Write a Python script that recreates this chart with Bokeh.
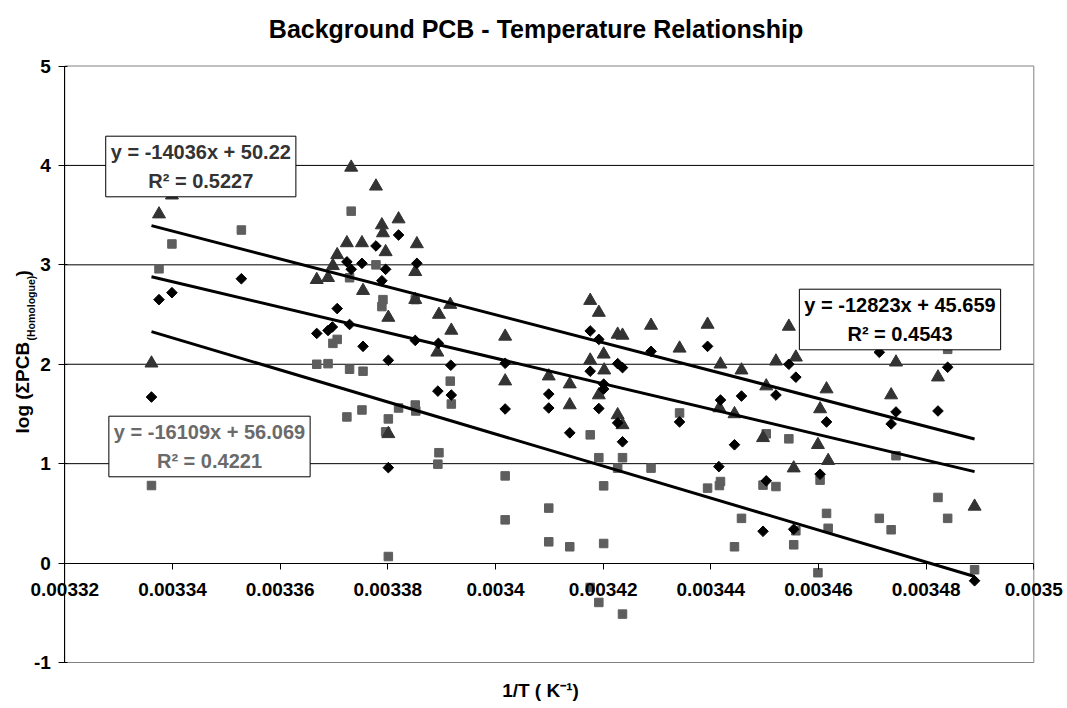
from math import pi
from bokeh.plotting import figure
from bokeh.models import FixedTicker, Label, Range1d
from bokeh.embed import file_html
from bokeh.resources import INLINE

# ---------------- data ----------------
tri_x = [0.0033361, 0.0033375, 0.0033399, 0.0033668, 0.0033689, 0.0033698, 0.0033706, 0.0033724,
         0.0033732, 0.0033752, 0.0033754, 0.0033778, 0.0033789, 0.0033791, 0.0033796, 0.0033801,
         0.0033801, 0.0033820, 0.0033854, 0.0033851, 0.0033851, 0.0033895, 0.0033892, 0.0033916,
         0.0033918, 0.0034018, 0.0034018, 0.0034099, 0.0034138, 0.0034138, 0.0034176, 0.0034176,
         0.0034192, 0.0034192, 0.0034201, 0.0034202, 0.0034227, 0.0034236, 0.0034227, 0.0034236,
         0.0034289, 0.0034342, 0.0034394, 0.0034418, 0.0034416, 0.0034457, 0.0034444, 0.0034503,
         0.0034497, 0.0034521, 0.0034545, 0.0034558, 0.0034554, 0.0034599, 0.0034603, 0.0034615,
         0.0034618, 0.0034735, 0.0034744, 0.0034822, 0.0034890]
tri_y = [2.01, 3.51, 3.70, 2.85, 2.87, 2.99, 3.10, 3.22,
         3.98, 3.22, 2.74, 3.79, 3.40, 3.32, 3.13, 2.47,
         1.30, 3.46, 3.21, 2.93, 2.65, 2.50, 2.12, 2.60,
         2.34, 2.28, 1.83, 1.88, 1.80, 1.59, 2.64, 2.04,
         2.52, 1.69, 2.10, 1.94, 2.30, 2.29, 1.49, 1.39,
         2.39, 2.16, 2.40, 2.00, 1.56, 1.94, 1.50, 1.78,
         1.26, 2.03, 2.38, 2.07, 0.955, 1.19, 1.55, 1.75,
         1.03, 1.69, 2.02, 1.87, 0.57]

dia_x = [0.0033361, 0.0033375, 0.0033399, 0.0033528, 0.0033668, 0.0033689, 0.0033697, 0.0033706,
         0.0033724, 0.0033729, 0.0033732, 0.0033752, 0.0033754, 0.0033778, 0.0033789, 0.0033796,
         0.0033801, 0.0033801, 0.0033820, 0.0033854, 0.0033851, 0.0033894, 0.0033893, 0.0033917,
         0.0033918, 0.0034018, 0.0034018, 0.0034099, 0.0034099, 0.0034138, 0.0034176, 0.0034176,
         0.0034192, 0.0034192, 0.0034201, 0.0034201, 0.0034227, 0.0034236, 0.0034227, 0.0034236,
         0.0034289, 0.0034342, 0.0034394, 0.0034418, 0.0034415, 0.0034457, 0.0034444, 0.0034521,
         0.0034503, 0.0034545, 0.0034558, 0.0034554, 0.0034497, 0.0034603, 0.0034615, 0.0034713,
         0.0034735, 0.0034744, 0.0034822, 0.0034840, 0.0034890]
dia_y = [1.67, 2.65, 2.72, 2.86, 2.31, 2.34, 2.375, 2.56,
         3.03, 2.40, 2.955, 3.015, 2.18, 3.19, 2.84, 2.955,
         2.04, 0.96, 3.30, 3.015, 2.24, 2.21, 1.73, 1.99,
         1.69, 2.01, 1.55, 1.70, 1.56, 1.31, 2.335, 1.93,
         2.25, 1.555, 1.80, 1.75, 2.006, 1.966, 1.41, 1.22,
         2.13, 1.42, 2.18, 1.64, 0.97, 1.68, 1.19, 1.69,
         0.827, 2.00, 1.87, 0.34, 0.32, 0.894, 1.42, 2.12,
         1.40, 1.52, 1.53, 1.97, -0.178]

sq_x = [0.0033361, 0.0033375, 0.0033399, 0.0033528, 0.0033668, 0.0033689, 0.0033698, 0.0033706,
        0.0033724, 0.0033729, 0.0033732, 0.0033729, 0.0033754, 0.0033752, 0.0033778, 0.0033791,
        0.0033789, 0.0033801, 0.0033796, 0.0033801, 0.0033820, 0.0033851, 0.0033851, 0.0033852,
        0.0033895, 0.0033893, 0.0033918, 0.0033916, 0.0034018, 0.0034018, 0.0034099, 0.0034099,
        0.0034138, 0.0034176, 0.0034176, 0.0034192, 0.0034192, 0.0034201, 0.0034201, 0.0034227,
        0.0034236, 0.0034236, 0.0034289, 0.0034342, 0.0034394, 0.0034416, 0.0034418, 0.0034457,
        0.0034444, 0.0034503, 0.0034497, 0.0034521, 0.0034545, 0.0034558, 0.0034554, 0.0034603,
        0.0034615, 0.0034618, 0.0034599, 0.0034713, 0.0034735, 0.0034744, 0.0034822, 0.0034840,
        0.0034840, 0.0034890]
sq_y = [0.78, 2.96, 3.21, 3.35, 2.00, 2.006, 2.21, 2.25,
        1.47, 1.95, 3.54, 2.87, 1.93, 1.54, 3.00, 2.65,
        2.58, 1.45, 1.32, 0.066, 1.56, 2.65, 1.59, 1.53,
        1.11, 0.995, 1.60, 1.83, 0.877, 0.435, 0.553, 0.214,
        0.164, 1.29, -0.245, 1.06, -0.396, 0.777, 0.197, 0.955,
        1.06, -0.513, 0.955, 1.51, 0.754, 0.78, 0.82, 0.45,
        0.164, 1.30, 0.784, 0.77, 1.25, 0.325, 0.184, 0.834,
        0.50, 0.35, -0.097, 0.45, 0.335, 1.08, 0.66, 0.45,
        2.15, -0.067]

fit_slopes = [-14036, -12823, -16109]
fit_intercepts = [50.22, 45.659, 56.069]
fit_r2 = [0.5227, 0.4543, 0.4221]
fit_labels = ["y = -14036x + 50.22\nR² = 0.5227",
              "y = -12823x + 45.659\nR² = 0.4543",
              "y = -16109x + 56.069\nR² = 0.4221"]

x_ticks = [0.00332, 0.00334, 0.00336, 0.00338, 0.0034, 0.00342, 0.00344, 0.00346, 0.00348, 0.0035]
x_tick_labels = ["0.00332", "0.00334", "0.00336", "0.00338", "0.0034",
                 "0.00342", "0.00344", "0.00346", "0.00348", "0.0035"]
y_ticks = [-1, 0, 1, 2, 3, 4, 5]
y_tick_labels = ["-1", "0", "1", "2", "3", "4", "5"]
grid_y = [1, 2, 3, 4]

title_text = "Background PCB - Temperature Relationship"
x_title = "1/T ( K⁻¹)"

# ---------------- layout helpers (pixel placement of the plotting area) ----------------
W, H = 1067, 708
L, R, T, B = 64.3, 1033.3, 65.5, 662.0
xpp = (x_ticks[-1] - x_ticks[0]) / (R - L)
ypp = (y_ticks[-1] - y_ticks[0]) / (B - T)


def px_x(px):
    return x_ticks[0] + (px - L) * xpp


def px_y(py):
    return y_ticks[-1] - (py - T) * ypp


FONT = "Liberation Sans"
TRI_C = "#333333"
DIA_C = "#000000"
SQ_C = "#5e5e5e"

p = figure(width=W, height=H, title=None,
           x_range=Range1d(px_x(0), px_x(W)), y_range=Range1d(px_y(H), px_y(0)),
           output_backend="svg", toolbar_location=None, min_border=0)
p.background_fill_color = "white"
p.border_fill_color = "white"
p.outline_line_color = None
p.xgrid.visible = False
p.ygrid.visible = False

# plot-area gridlines and border
p.segment(x0=[x_ticks[0]] * len(grid_y), y0=grid_y, x1=[x_ticks[-1]] * len(grid_y), y1=grid_y,
          line_color="black", line_width=1, level="underlay")
p.quad(left=x_ticks[0], right=x_ticks[-1], bottom=y_ticks[0], top=y_ticks[-1],
       fill_color=None, line_color="#808080", line_width=1, level="underlay")

# x axis drawn at y = 0
xa = p.xaxis[0]
xa.fixed_location = 0
xa.bounds = (x_ticks[0], x_ticks[-1])
xa.ticker = FixedTicker(ticks=x_ticks)
xa.major_label_overrides = dict(zip(x_ticks, x_tick_labels))
xa.minor_tick_line_color = None
xa.major_tick_in = 0
xa.major_tick_out = 6
xa.major_label_standoff = 14
xa.axis_line_color = "black"
xa.major_tick_line_color = "black"
xa.major_label_text_font = FONT
xa.major_label_text_font_size = "19px"
xa.major_label_text_font_style = "bold"
xa.major_label_text_color = "black"

ya = p.yaxis[0]
ya.fixed_location = x_ticks[0]
ya.bounds = (y_ticks[0], y_ticks[-1])
ya.ticker = FixedTicker(ticks=y_ticks)
ya.major_label_overrides = dict(zip(y_ticks, y_tick_labels))
ya.minor_tick_line_color = None
ya.major_tick_in = 3
ya.major_tick_out = 6
ya.major_label_standoff = 8
ya.axis_line_color = "black"
ya.major_tick_line_color = "black"
ya.major_label_text_font = FONT
ya.major_label_text_font_size = "19px"
ya.major_label_text_font_style = "bold"
ya.major_label_text_color = "black"

# titles
p.add_layout(Label(x=px_x(535.5), y=px_y(28), text=title_text, text_align="center",
                   text_baseline="middle", text_font=FONT, text_font_size="25px",
                   text_font_style="bold", text_color="black"))
p.add_layout(Label(x=px_x(540), y=px_y(690), text=x_title, text_align="center",
                   text_baseline="middle", text_font=FONT, text_font_size="19px",
                   text_font_style="bold", text_color="black"))

# y axis label with subscript (rotated labels)
p.add_layout(Label(x=px_x(21.7), y=px_y(433), text="log (ΣPCB", angle=pi / 2,
                   text_align="left", text_baseline="middle", text_font=FONT,
                   text_font_size="19px", text_font_style="bold", text_color="black"))
p.add_layout(Label(x=px_x(30), y=px_y(340), text="(Homologue)", angle=pi / 2,
                   text_align="left", text_baseline="middle", text_font=FONT,
                   text_font_size="10.5px", text_font_style="bold", text_color="black"))
p.add_layout(Label(x=px_x(21.7), y=px_y(276), text=")", angle=pi / 2,
                   text_align="left", text_baseline="middle", text_font=FONT,
                   text_font_size="19px", text_font_style="bold", text_color="black"))

# markers
p.scatter(sq_x, sq_y, marker="square", size=8.5, fill_color=SQ_C, line_color=SQ_C)
p.scatter(tri_x, tri_y, marker="triangle", size=13, fill_color=TRI_C, line_color=TRI_C)
p.scatter(dia_x, dia_y, marker="square", angle=pi / 4, size=7.5, fill_color=DIA_C, line_color=DIA_C)

# trend lines
series_x = [tri_x, dia_x, sq_x]
for xs, m, b in zip(series_x, fit_slopes, fit_intercepts):
    x0, x1 = min(xs), max(xs)
    p.line([x0, x1], [m * x0 + b, m * x1 + b], line_color="black", line_width=3)

# equation boxes
box_pos = [(px_x(200.3), px_y(166)), (px_x(899.5), px_y(319)), (px_x(209), px_y(446))]
box_col = [TRI_C, "black", "#6a6a6a"]
for (bx, by), txt, col in zip(box_pos, fit_labels, box_col):
    p.add_layout(Label(x=bx, y=by, text=txt, text_align="center", text_baseline="middle",
                       text_font=FONT, text_font_size="20px", text_font_style="bold",
                       text_color=col, text_line_height=1.3, padding=5,
                       background_fill_color="white", border_line_color="black",
                       border_line_width=1))

open("out.html", "w").write(file_html(p, INLINE))
